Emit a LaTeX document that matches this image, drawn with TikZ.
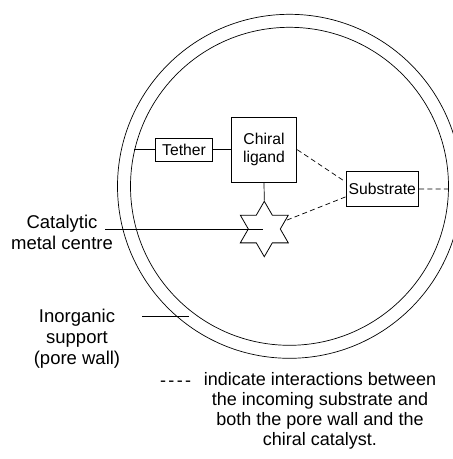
\documentclass[tikz,border=0pt]{standalone}
\usepackage{fontspec}
\setmainfont{Liberation Sans}
\usetikzlibrary{shapes.geometric}
\tikzset{
  thin line/.style={line width=0.7pt},
  boxnode/.style={draw, line width=0.8pt, inner sep=0pt, font=\fontsize{15.7}{18}\selectfont, align=center},
  label text/.style={font=\fontsize{18.5}{21}\selectfont, align=center, inner sep=0pt},
  note text/.style={font=\fontsize{18}{20}\selectfont, align=center, inner sep=0pt},
  dashline/.style={dash pattern=on 5pt off 3.3pt, line width=0.7pt},
}
\begin{document}
\begin{tikzpicture}[x=1pt, y=-1pt]
\clip (0,0) rectangle (453,459);
\fill[white] (0,0) rectangle (453,459);
% pore wall
\draw[thin line] (289.5,186.3) circle [radius=172];
\draw[thin line] (289.5,186.3) circle [radius=159];
% nodes
\node[boxnode, minimum width=56.6pt, minimum height=22.7pt] (tether) at (184,149.7) {Tether};
\node[boxnode, minimum width=65.7pt, minimum height=65.3pt] (lig) at (264,149.7) {Chiral\\ligand};
\node[boxnode, minimum width=72.7pt, minimum height=34.3pt] (sub) at (382.3,188.9) {Substrate};
\node[star, star points=6, star point ratio=1.732, draw, line width=0.8pt, inner sep=0pt, minimum size=55.4pt] (star) at (264.3,229) {};
\coordinate (tl) at (134.3,149.7);
\coordinate (tr) at (448.3,189);
% connectors
\draw[thin line] (tl) -- (tether.west);
\draw[thin line] (tether.east) -- (lig.west);
\draw[thin line] (lig.south) -- (star.north);
\draw[dashline] (lig.east) -- ([yshift=7pt]sub.west);
\draw[dashline] ([yshift=-8pt]sub.west) -- (star);
\draw[dashline] (sub.east) -- (tr);
% labels
\node[label text] (cat) at (62,232.5) {Catalytic\\metal centre};
\coordinate (cl) at (105,229);
\coordinate (cm) at (262.7,229);
\draw[thin line] (cl) -- (cm);
\node[label text] (inorg) at (77,338.5) {Inorganic\\support\\(pore wall)};
\coordinate (il) at (142,316.7);
\coordinate (ir) at (189,316.7);
\draw[thin line] (il) -- (ir);
\node[note text, anchor=base west] (dash) at (160,386) {-\kern2.3pt-\kern2.3pt-\kern2.3pt-};
\node[note text] (note) at (320,411) {indicate interactions between\\the incoming substrate and\\both the pore wall and the\\chiral catalyst.};
\end{tikzpicture}
\end{document}
